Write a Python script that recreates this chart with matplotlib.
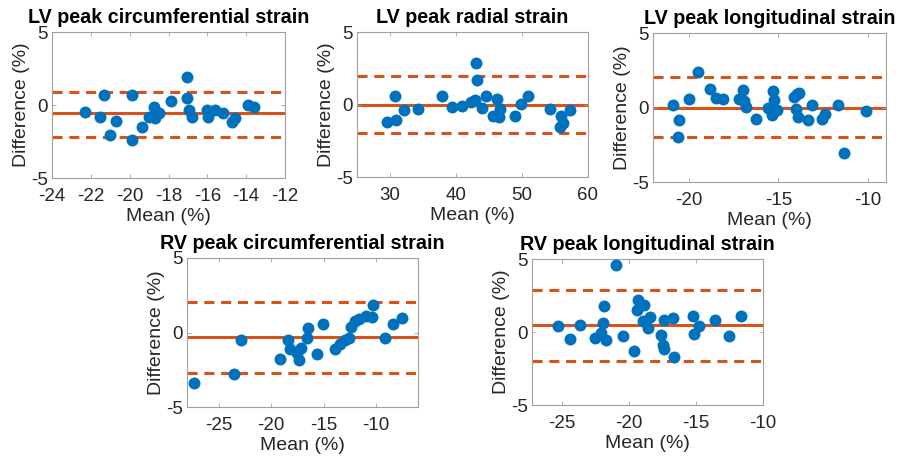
import matplotlib
matplotlib.use("Agg")
import matplotlib.pyplot as plt

# -------- dados --------
titulos = [
    "LV peak circumferential strain",
    "LV peak radial strain",
    "LV peak longitudinal strain",
    "RV peak circumferential strain",
    "RV peak longitudinal strain",
]

lvc_x = [-22.28, -21.51, -21.34, -21.0, -20.69, -19.88, -19.88, -19.37, -19.03, -18.73,
         -18.68, -18.51, -17.88, -17.05, -17.05, -16.92, -16.8, -16.02, -15.94, -15.6,
         -15.17, -14.74, -14.57, -13.88, -13.62]
lvc_y = [-0.45, -0.8, 0.68, -2.05, -1.07, 0.68, -2.39, -1.52, -0.84, -0.11,
         -0.91, -0.57, 0.3, 1.93, 0.45, -0.34, -0.8, -0.34, -0.84, -0.34,
         -0.52, -1.14, -0.91, 0.0, -0.16]

lvr_x = [29.53, 30.79, 30.94, 32.15, 34.21, 37.94, 39.4, 40.9, 42.2, 42.87,
         43.1, 43.25, 44.5, 44.0, 46.2, 45.6, 46.5, 46.7, 48.9, 49.8,
         50.9, 54.3, 55.96, 55.8, 56.2, 57.2]
lvr_y = [-1.22, 0.62, -1.06, -0.37, -0.3, 0.57, -0.14, -0.09, 0.16, 0.32,
         2.85, 1.7, 0.62, -0.23, 0.37, -0.76, -0.85, -0.3, -0.76, 0.05,
         0.62, -0.3, -0.76, -1.52, -1.31, -0.41]

lvl_x = [-20.88, -20.54, -20.6, -19.98, -19.48, -18.83, -18.49, -18.08, -17.19, -16.97,
         -16.93, -16.82, -16.26, -15.57, -15.38, -15.29, -15.25, -15.07, -14.13, -13.98,
         -13.84, -14.02, -13.89, -13.34, -13.15, -12.59, -12.4, -11.66, -11.34, -10.11]
lvl_y = [0.2, -0.85, -1.98, 0.54, 2.4, 1.21, 0.67, 0.56, 0.6, 1.17,
         0.45, 0.04, -0.74, 0.0, -0.52, 1.12, 0.49, -0.18, 0.72, 0.9,
         0.94, -0.07, -0.63, -0.85, 0.16, -0.74, -0.45, 0.16, -3.06, -0.25]

rvc_x = [-27.31, -23.51, -22.88, -19.18, -18.35, -18.2, -17.5, -17.34, -17.18, -16.55,
         -16.46, -15.6, -15.06, -13.86, -13.39, -12.91, -12.53, -12.34, -12.03, -11.58,
         -10.95, -10.38, -10.32, -9.18, -8.34, -7.48]
rvc_y = [-3.37, -2.76, -0.52, -1.75, -0.52, -1.08, -1.37, -1.82, -1.01, -0.36,
         0.27, -1.46, 0.54, -1.08, -0.74, -0.52, -0.34, 0.38, 0.79, 0.88,
         1.1, 1.01, 1.84, -0.4, 0.54, 0.99]

rvl_x = [-25.3, -24.35, -23.63, -22.51, -22.07, -21.94, -21.82, -21.69, -20.95, -20.45,
         -19.63, -19.38, -19.28, -18.88, -18.96, -18.53, -18.38, -17.59, -17.46, -17.39,
         -17.39, -16.72, -16.64, -15.22, -15.17, -14.8, -13.56, -12.56, -11.67]
rvl_y = [0.43, -0.48, 0.5, -0.41, -0.07, 0.62, 1.81, -0.53, 4.62, -0.3,
         -1.33, 1.53, 2.22, 1.88, 0.73, 0.27, 1.03, -0.18, -0.87, -1.17,
         0.8, 0.96, -1.74, 1.12, -0.14, 0.39, 0.8, -0.25, 1.12]

# viés e limites de concordância (lidos)
vies = [-0.52, 0.0, 0.0, -0.29, 0.46]
lim_inf = [-2.16, -1.98, -1.98, -2.7, -1.97]
lim_sup = [0.9, 1.95, 2.07, 2.07, 2.86]

xlims = [(-24, -12), (25, 60), (-22, -9), (-28, -6), (-27.2, -10)]
xticks = [
    [-24, -22, -20, -18, -16, -14, -12],
    [30, 40, 50, 60],
    [-20, -15, -10],
    [-25, -20, -15, -10],
    [-25, -20, -15, -10],
]
dados = [(lvc_x, lvc_y), (lvr_x, lvr_y), (lvl_x, lvl_y), (rvc_x, rvc_y), (rvl_x, rvl_y)]
# ---------------------------------------

AZUL = "#0072BD"
LARANJA = "#D95319"
CINZA = "#262626"

plt.rcParams["font.family"] = ["Liberation Sans", "DejaVu Sans"]
plt.rcParams["axes.unicode_minus"] = False

fig = plt.figure(figsize=(9, 4.61), dpi=100)
W, H = 900, 461
# caixas em pixels (esq, dir, topo, base)
caixas = [(52, 285, 32, 178), (357, 588, 32, 177), (653, 886, 33, 182),
          (187, 418, 258, 407), (532, 763, 259, 405)]
pads_titulo = [6.5, 6.5, 6.5, 6.5, 6.5]

for i, (esq, dir_, topo, base) in enumerate(caixas):
    ax = fig.add_axes([esq / W, 1 - base / H, (dir_ - esq) / W, (base - topo) / H])
    x, y = dados[i]
    ax.axhline(vies[i], color=LARANJA, lw=2.2, zorder=1)
    ax.axhline(lim_inf[i], color=LARANJA, lw=2.2, ls=(0, (3.3, 2.2)), zorder=1)
    ax.axhline(lim_sup[i], color=LARANJA, lw=2.2, ls=(0, (3.3, 2.2)), zorder=1)
    ax.scatter(x, y, s=74, color=AZUL, zorder=3, linewidths=0)
    ax.set_xlim(*xlims[i])
    ax.set_ylim(-5, 5)
    ax.set_xticks(xticks[i])
    ax.set_yticks([-5, 0, 5])
    ax.tick_params(direction="in", length=3, width=0.6, colors="#a0a0a0",
                   labelcolor=CINZA, labelsize=13.5, top=True, right=True)
    ax.tick_params(axis="x", pad=7.5)
    ax.tick_params(axis="y", pad=3)
    for s in ax.spines.values():
        s.set_color("#a0a0a0")
        s.set_linewidth(0.8)
    ax.set_xlabel("Mean (%)", fontsize=14, color=CINZA, labelpad=1.5)
    ax.set_ylabel("Difference (%)", fontsize=14, color=CINZA, labelpad=1)
    ax.set_title(titulos[i], fontsize=14.2, fontweight="bold", pad=pads_titulo[i])

fig.savefig("out.png", dpi=100)
